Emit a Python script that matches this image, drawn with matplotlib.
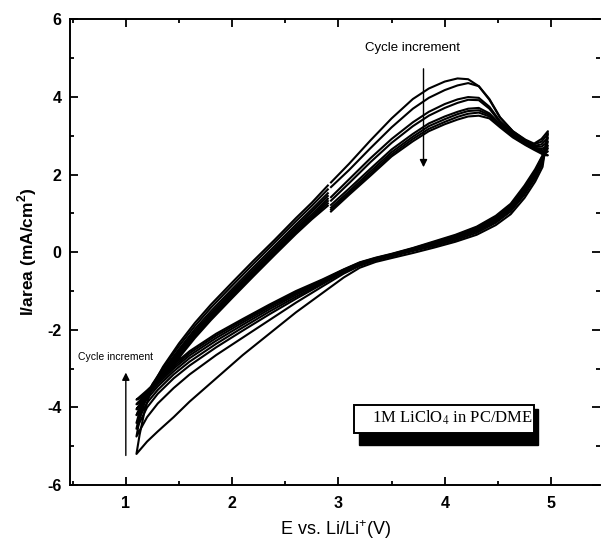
import matplotlib
matplotlib.use('Agg')
import matplotlib.pyplot as plt
from matplotlib.patches import Rectangle
from matplotlib.ticker import MultipleLocator

# ---------------- data ----------------
# anodic (positive-going) potential grid, V
E_anodic = [1.10, 1.13, 1.18, 1.25, 1.35, 1.50, 1.65, 1.80, 2.00, 2.20, 2.40, 2.60,
            2.75, 2.90, 2.93, 3.10, 3.30, 3.50, 3.70, 3.85, 4.00, 4.12, 4.22, 4.32,
            4.42, 4.52, 4.64, 4.76, 4.84, 4.91, 4.97]
# cathodic (negative-going) potential grid, V
E_cathodic = [4.97, 4.92, 4.85, 4.75, 4.62, 4.48, 4.30, 4.10, 3.90, 3.70, 3.50, 3.35,
              3.20, 3.05, 2.85, 2.60, 2.35, 2.10, 1.85, 1.60, 1.45, 1.30, 1.20, 1.10]

# current density, mA/cm2, anodic branch of each cycle
anodic_c1 = [-5.20, -4.70, -4.05, -3.45, -2.95, -2.35, -1.82, -1.35, -0.78, -0.22, 0.32, 0.88,
             1.28, 1.72, 1.80, 2.28, 2.88, 3.45, 3.95, 4.22, 4.40, 4.48, 4.46, 4.28,
             3.93, 3.47, 3.12, 2.90, 2.80, 2.92, 3.12]
anodic_c2 = [-4.75, -4.30, -3.85, -3.40, -2.98, -2.42, -1.90, -1.43, -0.86, -0.30, 0.25, 0.80,
             1.20, 1.62, 1.68, 2.12, 2.68, 3.22, 3.70, 3.98, 4.18, 4.30, 4.36, 4.28,
             3.95, 3.48, 3.12, 2.88, 2.78, 2.85, 3.05]
anodic_c3 = [-4.55, -4.18, -3.80, -3.42, -3.04, -2.50, -1.98, -1.52, -0.95, -0.39, 0.16, 0.71,
             1.11, 1.52, 1.42, 1.88, 2.42, 2.92, 3.35, 3.62, 3.82, 3.94, 4.00, 3.98,
             3.75, 3.38, 3.08, 2.86, 2.74, 2.78, 2.95]
anodic_c4 = [-4.40, -4.10, -3.75, -3.42, -3.07, -2.55, -2.04, -1.58, -1.01, -0.45, 0.10, 0.65,
             1.05, 1.45, 1.33, 1.78, 2.32, 2.82, 3.25, 3.52, 3.72, 3.85, 3.93, 3.92,
             3.70, 3.35, 3.05, 2.84, 2.72, 2.72, 2.85]
anodic_c5 = [-4.20, -4.00, -3.72, -3.44, -3.10, -2.60, -2.09, -1.63, -1.06, -0.50, 0.05, 0.60,
             0.98, 1.38, 1.22, 1.64, 2.15, 2.65, 3.05, 3.32, 3.50, 3.62, 3.70, 3.72,
             3.58, 3.30, 3.02, 2.82, 2.70, 2.66, 2.75]
anodic_c6 = [-4.05, -3.92, -3.70, -3.45, -3.13, -2.64, -2.13, -1.67, -1.10, -0.54, 0.01, 0.55,
             0.93, 1.32, 1.15, 1.57, 2.08, 2.58, 2.98, 3.25, 3.43, 3.56, 3.64, 3.66,
             3.54, 3.28, 3.00, 2.80, 2.68, 2.62, 2.68]
anodic_c7 = [-3.92, -3.84, -3.68, -3.46, -3.16, -2.68, -2.17, -1.71, -1.14, -0.58, -0.03, 0.51,
             0.89, 1.26, 1.10, 1.52, 2.02, 2.52, 2.92, 3.18, 3.36, 3.49, 3.57, 3.60,
             3.50, 3.25, 2.98, 2.78, 2.66, 2.58, 2.60]
anodic_c8 = [-3.80, -3.76, -3.66, -3.47, -3.19, -2.72, -2.21, -1.75, -1.18, -0.62, -0.07, 0.47,
             0.85, 1.20, 1.05, 1.48, 1.97, 2.47, 2.86, 3.12, 3.30, 3.42, 3.50, 3.52,
             3.45, 3.22, 2.96, 2.76, 2.64, 2.54, 2.50]

# current density, mA/cm2, cathodic branch of each cycle
cathodic_c1 = [3.12, 2.20, 1.82, 1.40, 0.98, 0.70, 0.45, 0.27, 0.12, -0.02, -0.15, -0.25,
               -0.40, -0.65, -1.05, -1.55, -2.10, -2.65, -3.25, -3.85, -4.25, -4.62, -4.88, -5.20]
cathodic_c2 = [3.05, 2.30, 1.90, 1.48, 1.05, 0.76, 0.50, 0.31, 0.16, 0.03, -0.11, -0.21,
               -0.35, -0.55, -0.88, -1.30, -1.75, -2.20, -2.65, -3.15, -3.50, -3.90, -4.25, -4.75]
cathodic_c3 = [2.95, 2.35, 1.95, 1.53, 1.10, 0.80, 0.54, 0.35, 0.19, 0.05, -0.09, -0.19,
               -0.32, -0.51, -0.82, -1.20, -1.60, -2.02, -2.45, -2.92, -3.25, -3.65, -4.00, -4.55]
cathodic_c4 = [2.85, 2.38, 1.98, 1.56, 1.13, 0.83, 0.57, 0.37, 0.21, 0.07, -0.08, -0.18,
               -0.30, -0.49, -0.79, -1.15, -1.53, -1.94, -2.36, -2.82, -3.15, -3.55, -3.88, -4.40]
cathodic_c5 = [2.75, 2.42, 2.02, 1.60, 1.16, 0.86, 0.60, 0.39, 0.23, 0.08, -0.07, -0.17,
               -0.29, -0.47, -0.76, -1.10, -1.47, -1.87, -2.28, -2.73, -3.07, -3.46, -3.78, -4.20]
cathodic_c6 = [2.68, 2.45, 2.06, 1.64, 1.19, 0.88, 0.62, 0.41, 0.24, 0.09, -0.06, -0.16,
               -0.28, -0.46, -0.74, -1.06, -1.42, -1.81, -2.21, -2.66, -3.00, -3.40, -3.70, -4.05]
cathodic_c7 = [2.60, 2.48, 2.10, 1.68, 1.22, 0.91, 0.64, 0.43, 0.26, 0.10, -0.05, -0.15,
               -0.27, -0.45, -0.72, -1.03, -1.38, -1.76, -2.15, -2.60, -2.95, -3.35, -3.63, -3.92]
cathodic_c8 = [2.50, 2.50, 2.14, 1.72, 1.25, 0.94, 0.66, 0.45, 0.28, 0.11, -0.04, -0.14,
               -0.26, -0.44, -0.70, -1.00, -1.35, -1.72, -2.10, -2.55, -2.90, -3.30, -3.56, -3.80]

anodic_cycles = [anodic_c1, anodic_c2, anodic_c3, anodic_c4,
                 anodic_c5, anodic_c6, anodic_c7, anodic_c8]
cathodic_cycles = [cathodic_c1, cathodic_c2, cathodic_c3, cathodic_c4,
                   cathodic_c5, cathodic_c6, cathodic_c7, cathodic_c8]

x_ticks = [1, 2, 3, 4, 5]
y_ticks = [-6, -4, -2, 0, 2, 4, 6]
legend_text = "1M LiClO$_4$ in PC/DME"
arrow_text = "Cycle increment"

# ---------------- figure ----------------
plt.rcParams['font.family'] = ['Liberation Sans', 'DejaVu Sans']
plt.rcParams['mathtext.fontset'] = 'custom'
plt.rcParams['mathtext.rm'] = 'Liberation Sans'
plt.rcParams['mathtext.bf'] = 'Liberation Sans:bold'
plt.rcParams['axes.unicode_minus'] = False

fig = plt.figure(figsize=(6.03, 5.41), dpi=100)
ax = fig.add_axes([0.1161, 0.1035, 0.8789, 0.8605])

split = E_anodic.index(2.93)
for an, ca in zip(anodic_cycles, cathodic_cycles):
    xs = E_anodic[split:] + E_cathodic + E_anodic[:split]
    ys = an[split:] + ca + an[:split]
    ax.plot(xs, ys, color='black', lw=1.5, solid_joinstyle='round')

ax.set_xlim(0.475, 5.46)
ax.set_ylim(-6, 6)
ax.set_xticks(x_ticks)
ax.set_yticks(y_ticks)
ax.xaxis.set_minor_locator(MultipleLocator(0.5))
ax.yaxis.set_minor_locator(MultipleLocator(1))
ax.tick_params(which='both', direction='in', top=True, right=True, width=1.3)
ax.tick_params(which='major', length=5.5)
ax.tick_params(which='minor', length=3)
ax.tick_params(axis='x', pad=8)
ax.tick_params(axis='y', pad=6)
for lab in ax.get_xticklabels() + ax.get_yticklabels():
    lab.set_fontweight('bold')
    lab.set_fontsize(11.5)
for side in ['left', 'bottom', 'top']:
    ax.spines[side].set_linewidth(1.4)
ax.spines['right'].set_visible(False)

ax.set_xlabel("E vs. Li/Li$^{+}$(V)", fontsize=13, labelpad=5)
ax.set_ylabel("I/area (mA/cm$^{\\mathbf{2}}$)", fontsize=12.5, fontweight='bold', labelpad=6)

# annotations
ax.text(3.70, 5.26, arrow_text, fontsize=9.5, ha='center', va='center')
ax.annotate('', xy=(3.80, 2.12), xytext=(3.80, 4.80),
            arrowprops=dict(arrowstyle='-|>', color='black', lw=1.0, mutation_scale=11))
ax.text(0.90, -2.69, arrow_text, fontsize=7.5, ha='center', va='center')
ax.annotate('', xy=(1.00, -3.03), xytext=(1.00, -5.31),
            arrowprops=dict(arrowstyle='-|>', color='black', lw=1.0, mutation_scale=11))

# boxed label with shadow
ax.add_patch(Rectangle((3.19, -4.98), 1.69, 0.95, facecolor='black', edgecolor='black', zorder=4))
ax.add_patch(Rectangle((3.143, -4.665), 1.70, 0.73, facecolor='white', edgecolor='black',
                       lw=1.4, zorder=5))
ax.text(4.07, -4.26, legend_text, fontsize=12, ha='center', va='center', zorder=6,
        family='Liberation Serif', math_fontfamily='stix')

fig.savefig('out.png', dpi=100)
